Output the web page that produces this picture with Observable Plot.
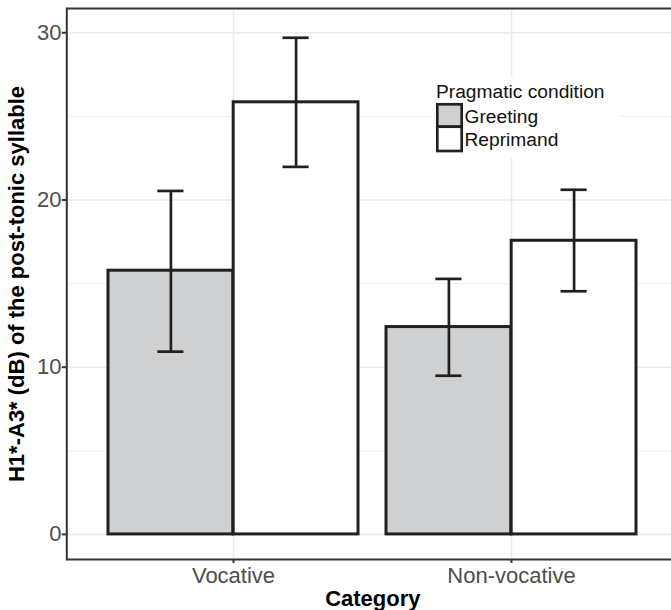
<!DOCTYPE html>
<html>
<head>
<meta charset="utf-8">
<script src="https://cdn.jsdelivr.net/npm/d3@7"></script>
<script src="https://cdn.jsdelivr.net/npm/@observablehq/plot@0.6"></script>
<style>
html, body { margin: 0; padding: 0; background: #fff; }
#wrap { position: relative; width: 671px; height: 610px; overflow: hidden; font-family: "Liberation Sans", Arial, sans-serif; }
#wrap svg { max-width: none !important; display: block; }
#wrap g[aria-label^="x-axis"] line, #wrap g[aria-label^="x-axis"] path,
#wrap g[aria-label^="y-axis"] line, #wrap g[aria-label^="y-axis"] path { stroke: #333; stroke-width: 2; }
</style>
</head>
<body>
<div id="wrap"></div>
<script>
// ---- data ----
const categories = ["Vocative", "Non-vocative"];
const conditions = ["Greeting", "Reprimand"];
const conditionFills = ["#cfd0d2", "#ffffff"];
const greetingMean = [15.77, 12.40];
const greetingLow  = [10.93, 9.49];
const greetingHigh = [20.54, 15.28];
const reprimandMean = [25.84, 17.56];
const reprimandLow  = [21.98, 14.54];
const reprimandHigh = [29.70, 20.61];
const yTicks = [0, 10, 20, 30];
const yMinor = [5, 15, 25];
const xTitle = "Category";
const yTitle = "H1*-A3* (dB) of the post-tonic syllable";
const legendTitle = "Pragmatic condition";

const series = {
  Greeting: {mean: greetingMean, lo: greetingLow, hi: greetingHigh},
  Reprimand: {mean: reprimandMean, lo: reprimandLow, hi: reprimandHigh}
};
const rows = conditions.flatMap(k => categories.map((c, i) => ({
  category: c, condition: k, mean: series[k].mean[i], lo: series[k].lo[i], hi: series[k].hi[i]
})));
const caps = rows.flatMap(d => [{...d, v: d.lo}, {...d, v: d.hi}]);

// ---- layout ----
const W = 680, H = 610, mL = 66.3, mR = 1.7, mT = 8, mB = 51;
const pIn = 0.1, pOut = 0.15;
const step = (W - mL - mR) / (categories.length - pIn + 2 * pOut);
const bw = step * (1 - pIn);
const half = bw / 2;
const dodge = bw / 4;
const capW = 26.5;
const capInset = (bw - capW) / 2;
const ink = "#231f20";

const marks = [
  Plot.ruleY(yMinor, {y: d => d, stroke: "#f2f2f2", strokeWidth: 1.2}),
  Plot.ruleY(yTicks, {y: d => d, stroke: "#ebebeb", strokeWidth: 1.6}),
  Plot.ruleX(categories, {x: d => d, stroke: "#ebebeb", strokeWidth: 1.6})
];
conditions.forEach((k, j) => {
  const data = rows.filter(d => d.condition === k);
  const capData = caps.filter(d => d.condition === k);
  const sign = j === 0 ? -1 : 1;
  marks.push(
    Plot.barY(data, {x: "category", y: "mean", fill: "condition", stroke: ink, strokeWidth: 3,
      insetLeft: j === 0 ? 0 : half, insetRight: j === 0 ? half : 0}),
    Plot.ruleX(data, {x: "category", y1: "lo", y2: "hi", dx: sign * dodge, stroke: ink, strokeWidth: 2.7}),
    Plot.tickY(capData, {x: "category", y: "v", dx: sign * dodge, insetLeft: capInset, insetRight: capInset, stroke: ink, strokeWidth: 2.7})
  );
});
marks.push(
  Plot.frame({stroke: "#333", strokeWidth: 2}),
  Plot.text([xTitle], {text: d => d, frameAnchor: "bottom", textAnchor: "middle", lineAnchor: "top", dy: 30.4, fontWeight: "bold", fill: "#000", fontSize: 22}),
  Plot.text([yTitle], {text: d => d, frameAnchor: "left", textAnchor: "middle", lineAnchor: "middle", rotate: -90, dx: -49.4, fontWeight: "bold", fill: "#000", fontSize: 22})
);

const plot = Plot.plot({
  width: W, height: H,
  marginLeft: mL, marginRight: mR, marginTop: mT, marginBottom: mB,
  style: {fontFamily: "'Liberation Sans', Arial, sans-serif", fontSize: "22px", color: "#4d4d4d", background: "transparent", maxWidth: "none", overflow: "visible"},
  x: {type: "band", domain: categories, paddingInner: pIn, paddingOuter: pOut, align: 0.5, tickSize: 4, tickPadding: 3.6, label: null},
  y: {domain: [-1.5, 31.45], ticks: yTicks, tickSize: 4.5, tickPadding: 0.8, label: null},
  color: {domain: conditions, range: conditionFills},
  marks
});
document.getElementById("wrap").appendChild(plot);

// ---- legend (inside panel) ----
const svg = d3.select(plot);
const g = svg.append("g").attr("font-family", "'Liberation Sans', Arial, sans-serif").attr("text-anchor", "start");
g.append("rect").attr("x", 432).attr("y", 77).attr("width", 186).attr("height", 81).attr("fill", "#fff");
g.append("text").attr("x", 436).attr("y", 97.7).attr("font-size", 19.2).attr("fill", "#111").attr("text-anchor", "start").text(legendTitle);
const keyY = [104.3, 126.7], keyH = [22.4, 24.3], labY = [122.7, 146];
conditions.forEach((k, j) => {
  g.append("rect").attr("x", 437.3).attr("y", keyY[j]).attr("width", 24.4).attr("height", keyH[j])
    .attr("fill", conditionFills[j]).attr("stroke", ink).attr("stroke-width", 2.7);
  g.append("text").attr("x", 464.5).attr("y", labY[j]).attr("font-size", 19.2).attr("fill", "#111").attr("text-anchor", "start").text(k);
});
</script>
</body>
</html>
